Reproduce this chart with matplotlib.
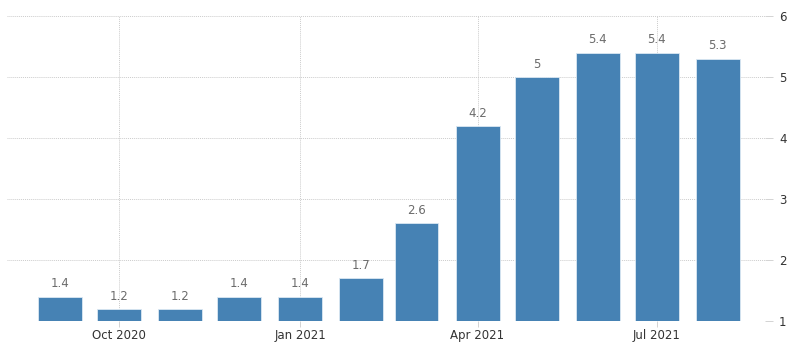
import matplotlib
matplotlib.use("Agg")
import matplotlib.pyplot as plt
import matplotlib.dates as mdates
import datetime as dt

months = ["2020-09", "2020-10", "2020-11", "2020-12", "2021-01", "2021-02",
          "2021-03", "2021-04", "2021-05", "2021-06", "2021-07", "2021-08"]
values = [1.4, 1.2, 1.2, 1.4, 1.4, 1.7, 2.6, 4.2, 5.0, 5.4, 5.4, 5.3]
value_labels = ["1.4", "1.2", "1.2", "1.4", "1.4", "1.7", "2.6", "4.2", "5", "5.4", "5.4", "5.3"]
tick_months = ["2020-10", "2021-01", "2021-04", "2021-07"]
tick_labels = ["Oct 2020", "Jan 2021", "Apr 2021", "Jul 2021"]
y_ticks = [1, 2, 3, 4, 5, 6]

dates = [dt.datetime.strptime(m, "%Y-%m") for m in months]
tick_dates = [dt.datetime.strptime(m, "%Y-%m") for m in tick_months]
base = 1

fig = plt.figure(figsize=(8, 3.52), dpi=100)
ax = fig.add_axes([7/800, 31/352, (765-7)/800, (321-16)/352])

xd = mdates.date2num(dates)
ax.bar(xd, [v - base for v in values], bottom=base, width=22.3,
       color="#4682b4", edgecolor="#dbe8f3", linewidth=0.6, zorder=3)

for x, v, lab in zip(xd, values, value_labels):
    ax.annotate(lab, (x, v), xytext=(0, 4.5), textcoords="offset points",
                ha="center", va="bottom", fontsize=8.5, color="#6b6b6b", zorder=4)

ax.set_ylim(1, 6)
ax.set_xlim(mdates.date2num(dt.datetime(2020, 8, 5)), mdates.date2num(dt.datetime(2021, 8, 25)))

ax.yaxis.tick_right()
ax.set_yticks(y_ticks)
ax.set_yticklabels([str(t) for t in y_ticks])
ax.set_xticks(mdates.date2num(tick_dates))
ax.set_xticklabels(tick_labels)

ax.tick_params(axis="y", length=6, width=0.6, color="#cccccc", labelsize=8.5,
               labelcolor="#333333", pad=4)
ax.tick_params(axis="x", length=4, width=0.6, color="#cccccc", labelsize=8.5,
               labelcolor="#333333", pad=2)

ax.grid(True, axis="both", linestyle=(0, (1, 1)), color="#cccccc", linewidth=0.7, zorder=0)
ax.set_axisbelow(True)
for s in ax.spines.values():
    s.set_visible(False)

fig.savefig("out.png", dpi=100)
